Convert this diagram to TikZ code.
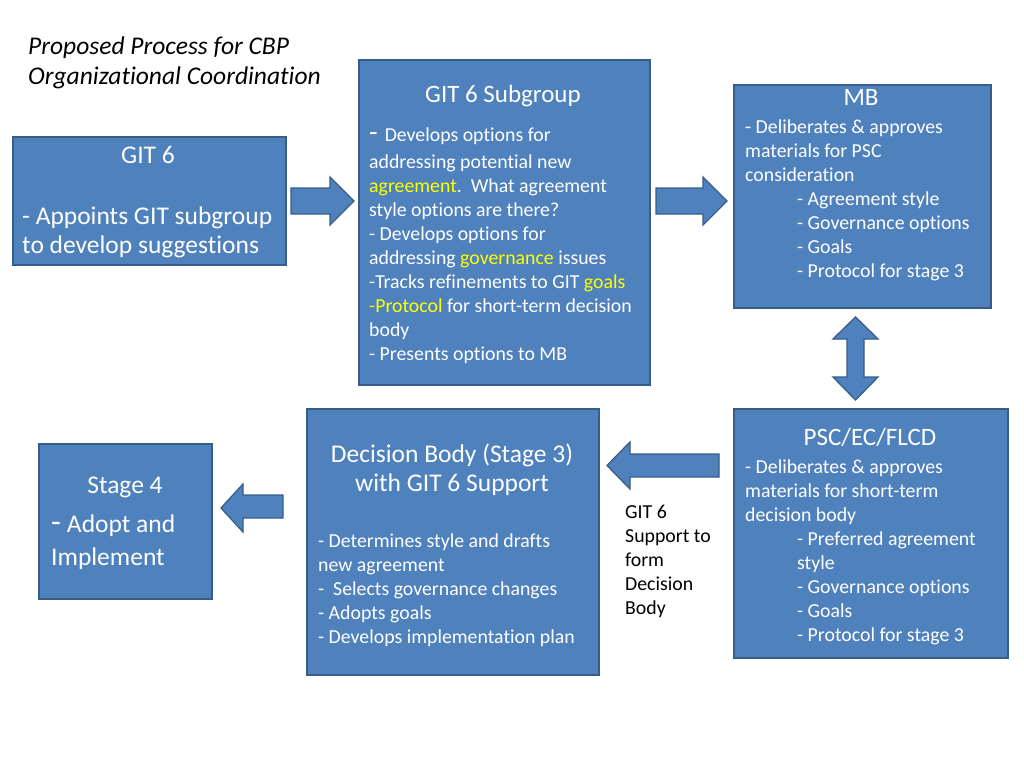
\documentclass[tikz,border=0pt]{standalone}
\usepackage{fontspec}
\setmainfont{Carlito}[Ligatures=NoCommon]
\definecolor{boxfill}{RGB}{79,129,189}
\definecolor{boxedge}{RGB}{56,93,138}
\definecolor{hl}{RGB}{255,255,0}
\newcommand{\hlt}[1]{\textcolor{hl}{#1}}
\newcommand{\ind}{\hskip52pt}
\begin{document}
\begin{tikzpicture}[x=1pt,y=-1pt,
  box/.style={draw=boxedge, fill=boxfill, line width=2pt, inner sep=0pt, anchor=north west},
  arr/.style={draw=boxedge, fill=boxfill, line width=1.3pt, line join=miter},
  body/.style={text=white, inner sep=0pt, anchor=base west, font=\fontsize{19.8}{24}\selectfont},
  big/.style={text=white, inner sep=0pt, anchor=base west, font=\fontsize{25.5}{29.3}\selectfont},
  head/.style={text=white, inner sep=0pt, anchor=base, font=\fontsize{25}{29}\selectfont},
  lbl/.style={text=black, inner sep=0pt, anchor=base west, font=\fontsize{19.8}{24}\selectfont}]
\useasboundingbox[fill=white] (0,0) rectangle (1024,768);

% title
\node[inner sep=0pt, anchor=base west, font=\itshape\fontsize{25.5}{30}\selectfont] (title) at (28,55)
  {\vtop{\hbox{Proposed Process for CBP}\hbox{Organizational Coordination}}};

% boxes
\node[box, minimum width=273pt, minimum height=128pt] (git6) at (12,136) {};
\node[box, minimum width=291pt, minimum height=325pt] (sub) at (358,59) {};
\node[box, minimum width=257pt, minimum height=223pt] (mb) at (733,84) {};
\node[box, minimum width=274pt, minimum height=249pt] (psc) at (733,408) {};
\node[box, minimum width=292pt, minimum height=266pt] (dec) at (306,408) {};
\node[box, minimum width=173pt, minimum height=155pt] (st4) at (38,443) {};

% arrows
\draw[arr] (354,201) -- (330,177) -- (330,188) -- (291,188) -- (291,214) -- (330,214) -- (330,225) -- cycle;
\draw[arr] (727,201) -- (703,177) -- (703,188) -- (656,188) -- (656,214) -- (703,214) -- (703,225) -- cycle;
\draw[arr] (855.5,317) -- (878,339) -- (864,339) -- (864,377) -- (878,377) -- (855.5,400) -- (833,377) -- (847,377) -- (847,339) -- (833,339) -- cycle;
\draw[arr] (607,465.5) -- (630,442) -- (630,454) -- (719,454) -- (719,477) -- (630,477) -- (630,489) -- cycle;
\draw[arr] (221,508) -- (243,484) -- (243,495) -- (283,495) -- (283,518) -- (243,518) -- (243,532) -- cycle;

% GIT 6
\node[head, font=\fontsize{25.5}{29.3}\selectfont] (git6t) at (148,163) {GIT 6};
\node[big] (git6b) at (22,224) {\vtop{\hbox{- Appoints GIT subgroup}\hbox{to develop suggestions}}};

% GIT 6 Subgroup
\node[head] (subt) at (503,102) {GIT 6 Subgroup};
\node[body] (subb) at (369,141) {\vtop{%
  \hbox{{\fontsize{28}{24}\selectfont -}\hskip7pt Develops options for}\kern3pt
  \hbox{addressing potential new}
  \hbox{\hlt{agreement}.\ \ What agreement}
  \hbox{style options are there?}
  \hbox{- Develops options for}
  \hbox{addressing \hlt{governance} issues}
  \hbox{-Tracks refinements to GIT \hlt{goals}}
  \hbox{\hlt{-Protocol} for short-term decision}
  \hbox{body}
  \hbox{- Presents options to MB}}};

% MB
\node[head] (mbt) at (861,105) {MB};
\node[body] (mbb) at (745,133) {\vtop{%
  \hbox{- Deliberates \& approves}
  \hbox{materials for PSC}
  \hbox{consideration}
  \hbox{\ind- Agreement style}
  \hbox{\ind- Governance options}
  \hbox{\ind- Goals}
  \hbox{\ind- Protocol for stage 3}}};

% PSC
\node[head] (psct) at (870,445) {PSC/EC/FLCD};
\node[body] (pscb) at (745,473) {\vtop{%
  \hbox{- Deliberates \& approves}
  \hbox{materials for short-term}
  \hbox{decision body}
  \hbox{\ind- Preferred agreement}
  \hbox{\ind style}
  \hbox{\ind- Governance options}
  \hbox{\ind- Goals}
  \hbox{\ind- Protocol for stage 3}}};

% Decision body
\node[head, font=\fontsize{25.5}{29}\selectfont] (dect1) at (452,462) {Decision Body (Stage 3)};
\node[head, font=\fontsize{25.5}{29}\selectfont] (dect2) at (452,491) {with GIT 6 Support};
\node[body] (decb) at (318,547) {\vtop{%
  \hbox{- Determines style and drafts}
  \hbox{new agreement}
  \hbox{-\ \ Selects governance changes}
  \hbox{- Adopts goals}
  \hbox{- Develops implementation plan}}};

% label
\node[lbl] (sup) at (625,518) {\vtop{\hbox{GIT 6}\hbox{Support to}\hbox{form}\hbox{Decision}\hbox{Body}}};

% Stage 4
\node[head, font=\fontsize{25.5}{29}\selectfont] (st4t) at (125,493) {Stage 4};
\node[big] (st4b) at (51,532) {\vtop{\hbox{{\fontsize{32}{30}\selectfont -}\hskip6pt Adopt and}\kern4pt\hbox{Implement}}};
\end{tikzpicture}
\end{document}
